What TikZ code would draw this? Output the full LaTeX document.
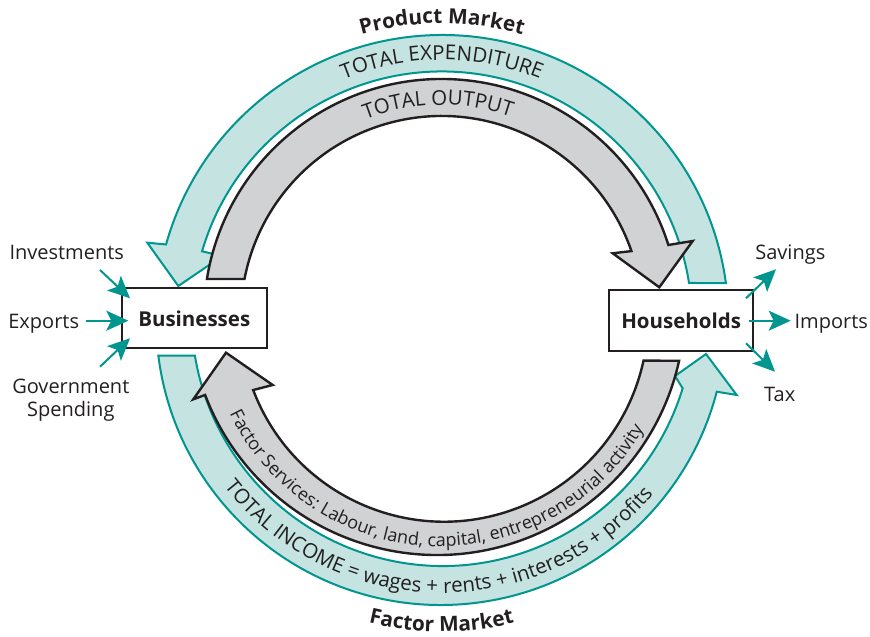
\documentclass[tikz,border=0pt]{standalone}
\usepackage{fontspec}
\setmainfont{Open Sans}
\usetikzlibrary{arrows.meta,decorations.text,calc}
\definecolor{tealline}{RGB}{0,150,143}
\definecolor{tealfill}{RGB}{196,227,225}
\definecolor{grayfill}{RGB}{209,210,212}
\definecolor{ink}{RGB}{35,31,32}
\newcommand\myArcFont{\fontsize{20.5}{24}\selectfont\color{ink}}
\newcommand\mySmallArcFont{\fontsize{18}{21}\selectfont\color{ink}}
\newcommand\myMarketFont{\fontsize{20.8}{24}\selectfont\bfseries\color{ink}}
\begin{document}
\begin{tikzpicture}[x=1pt,y=1pt,
  tealarc/.style={draw=tealline, fill=tealfill, line width=2pt, line join=miter},
  grayarc/.style={draw=ink, fill=grayfill, line width=2.4pt, line join=miter},
  boxnode/.style={draw=ink, fill=white, line width=2pt, inner sep=0pt, font=\fontsize{20.5}{24}\selectfont\bfseries, text=ink},
  lbl/.style={font=\fontsize{20}{23.4}\selectfont, text=ink, inner sep=0pt, anchor=base},
  flow/.style={draw=tealline, line width=2pt, -{Stealth[length=22pt,width=20pt,inset=5pt]}},
  arctext/.style={decorate, decoration={text along path, text align=center, text={#1}}}]
\useasboundingbox (0,0) rectangle (870,637);
% centres of the arcs
\coordinate (Ct) at (442,315.5);
\coordinate (Cg) at (441.7,320.2);
\coordinate (Cbo) at (441,316.9);
\coordinate (Cbi) at (442.6,322);
\coordinate (Cgo) at (437,330);
\coordinate (Cgi) at (444,319.4);
\coordinate (Ctb) at (441.8,319.5);
\coordinate (Cgb) at (440.5,324.7);
\coordinate (Cfm) at (441.5,319);
% top teal: total expenditure
\draw[tealarc] ($(Ct)+(7.72:286.5)$) arc[start angle=7.72,end angle=164.4,radius=286.5]
  -- (147.3,394.3) -- (178.3,351) -- (222.4,381)
  -- ($(Ct)+(163.7:250)$) arc[start angle=163.7,end angle=8.86,radius=250] -- cycle;
% top gray: total output
\draw[grayarc] ($(Cg)+(170.85:237.8)$) arc[start angle=170.85,end angle=17.58,radius=237.8]
  -- (692.7,396) -- (659.3,349.7) -- (612.7,383.7)
  -- ($(Cg)+(19.1:200.8)$) arc[start angle=19.1,end angle=169.15,radius=200.8] -- cycle;
% bottom teal: total income
\draw[tealarc] ($(Cbo)+(187.18:284.9)$) arc[start angle=187.18,end angle=345.44,radius=284.9]
  -- (736.7,242) -- (706,283) -- (675,261)
  -- ($(Cbi)+(343.02:251)$) arc[start angle=343.02,end angle=189.33,radius=251] -- cycle;
% bottom gray: factor services
\draw[grayarc] ($(Cgi)+(347.81:204.1)$) -- ($(Cgo)+(347.49:248)$) arc[start angle=347.49,end angle=200.77,radius=248]
  -- (193.3,237.7) -- (226,284.3) -- (272.7,252)
  -- ($(Cgi)+(200.79:204.1)$) arc[start angle=200.79,end angle=347.81,radius=204.1] -- cycle;
% arc texts
\path[arctext={|\myMarketFont|Product Market}] ($(Ct)+(160:298)$) arc[start angle=160,end angle=20,radius=298];
\path[arctext={|\myArcFont|TOTAL EXPENDITURE}] ($(Ct)+(160:261.5)$) arc[start angle=160,end angle=20,radius=261.5];
\path[arctext={|\myArcFont|TOTAL OUTPUT}] ($(Cg)+(161:211.8)$) arc[start angle=161,end angle=21,radius=211.8];
\path[arctext={|\mySmallArcFont|Factor Services: Labour, land, capital, entrepreneurial activity}] ($(Cgb)+(186:234)$) arc[start angle=186,end angle=350,radius=234];
\path[arctext={|\myArcFont|TOTAL INCOME = wages + rents + interests + profits}] ($(Ctb)+(187:275.5)$) arc[start angle=187,end angle=351,radius=275.5];
\path[arctext={|\myMarketFont|Factor Market}] ($(Cfm)+(220:313.5)$) arc[start angle=220,end angle=320,radius=313.5];
% boxes
\node[boxnode, minimum width=144.5pt, minimum height=60pt] (bus) at (194.25,318.5) {Businesses};
\node[boxnode, minimum width=143.7pt, minimum height=61pt] (hh) at (681.15,316.5) {Households};
% side labels
\node[lbl] (inv) at (66.7,377) {Investments};
\node[lbl] (exp) at (43.7,308.7) {Exports};
\node[lbl, align=center] (gov) at (70.8,220.3) {Government\\Spending};
\node[lbl] (sav) at (790.3,377) {Savings};
\node[lbl] (imp) at (831.3,308.7) {Imports};
\node[lbl] (tax) at (779.7,235.3) {Tax};
% arrow end points
\coordinate (invS) at (100,367);   \coordinate (invT) at (130,338.7);
\coordinate (expS) at (86,316.3);  \coordinate (expT) at (128.3,316.3);
\coordinate (govS) at (100,270.3); \coordinate (govT) at (130,298.7);
\coordinate (savS) at (746,338.7); \coordinate (savT) at (776,367.7);
\coordinate (impS) at (749.3,316.3); \coordinate (impT) at (790.7,316.3);
\coordinate (taxS) at (746,293.7); \coordinate (taxT) at (775,265.3);
\draw[flow] (invS) -- (invT);
\draw[flow] (expS) -- (expT);
\draw[flow] (govS) -- (govT);
\draw[flow] (savS) -- (savT);
\draw[flow] (impS) -- (impT);
\draw[flow] (taxS) -- (taxT);
\end{tikzpicture}
\end{document}
